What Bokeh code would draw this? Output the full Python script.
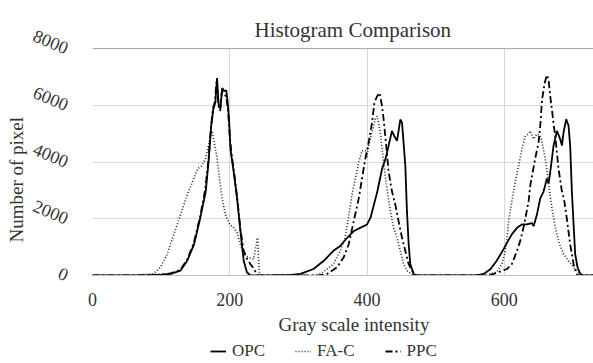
from bokeh.plotting import figure
from bokeh.models import Legend, LegendItem, Title, Span, FixedTicker, Range1d
from bokeh.layouts import column
from bokeh.embed import file_html
from bokeh.resources import INLINE

# ---- data ----
opc_x = [0, 40, 80, 100, 114, 128, 138, 148, 157, 165, 169, 173, 176, 179, 181.5, 184, 186.5, 189, 192, 195, 197, 199, 201, 206, 210.6, 215.5, 220.3, 225, 230,
         260, 290, 303, 322, 337, 351, 361, 371, 381, 390, 400, 405, 410, 415, 419, 422, 427, 431.5, 436.4, 440, 443.7, 448.5, 451, 455.8, 458.2, 460.7, 463, 468, 472,
         560, 570, 580, 589, 599, 604, 611, 618.5, 625.7, 633, 640, 642.7, 647.5, 652.4, 657.2, 659.7, 662, 664.5, 667, 671.8, 676.7, 681.5, 684, 686.4, 690.3, 693.6, 696, 698.5, 701, 703.3, 706.7, 710.7, 715, 730]
opc_y = [0, 0, 10, 30, 60, 170, 520, 1100, 2030, 2960, 4000, 5280, 5860, 6090, 6960, 5970, 5920, 6610, 6500, 6530, 6090, 5500, 4460, 3600, 2720, 1570, 520, 115, 0,
         0, 20, 56, 230, 520, 870, 1040, 1330, 1570, 1680, 1800, 2030, 2490, 2960, 3420, 3770, 4120, 4580, 5100, 4900, 4750, 5500, 5390, 3880, 2260, 1100, 400, 56, 0,
         0, 56, 230, 520, 930, 1160, 1450, 1680, 1800, 1800, 1850, 1740, 2140, 2720, 2960, 3190, 3420, 3250, 3650, 4580, 5100, 4810, 4580, 5050, 5510, 5280, 4580, 2960, 1800, 750, 290, 56, 0, 0]

fac_x = [0, 60, 89, 99, 108.8, 118.5, 128.2, 137.9, 147.6, 153.4, 159.7, 164.6, 168, 171.8, 174.3, 178.2, 181.6, 185.5, 188.9, 193.7, 200, 205.8, 210.6, 215.5, 220.3, 227.6, 234.9, 239.8, 240.7, 242.7, 244.6,
         320, 332, 351, 361, 368, 373, 378, 383, 388, 392.7, 397.6, 400, 402.4, 407.3, 412, 414.6, 419.4, 424, 429, 434, 438.8, 443.7, 448.5, 453.3, 458, 468,
         575, 580, 589, 596.6, 601.5, 604, 606.3, 611, 616, 621, 625.7, 630.5, 635.4, 637.8, 642.7, 647.5, 652.4, 655, 659.7, 663, 666, 669.4, 674.3, 680.6, 686.4, 693.6, 700.9, 708, 713, 730]
fac_y = [0, 0, 60, 290, 750, 1450, 2140, 2840, 3420, 3770, 3880, 4120, 4460, 4930, 5100, 4580, 4120, 3310, 2720, 2140, 1800, 1680, 1510, 1100, 750, 640, 580, 1270, 1330, 170, 0,
         0, 56, 400, 870, 1330, 2030, 2840, 3420, 4000, 4400, 4400, 4180, 4580, 5050, 5510, 5620, 5050, 4000, 3070, 2260, 1680, 1330, 870, 400, 170, 0,
         0, 56, 115, 400, 870, 1330, 1910, 2610, 3310, 3880, 4460, 4900, 5000, 5100, 4810, 4990, 4930, 4700, 4120, 3540, 2960, 2380, 1680, 1100, 750, 520, 290, 115, 0, 0]

ppc_x = [0, 40, 80, 100, 113, 128, 138, 147.6, 157, 164, 169, 172.5, 175.5, 178, 181, 183.5, 186, 188.5, 192, 195, 197.5, 200, 203, 206, 210.6, 215.5, 220, 225, 230, 235, 239, 241,
         330, 341.8, 356.3, 366, 373.3, 380.6, 388, 392.7, 397.6, 402.4, 407.3, 410.7, 414.6, 418.4, 421.9, 424.2, 428, 431.5, 436.4, 441.3, 446, 451, 455.8, 460.7, 465.6, 470,
         575, 584.5, 604, 611, 618.5, 623.3, 629, 635.4, 638, 645, 650, 652.4, 655, 659, 662, 664.5, 667, 669.4, 672, 674.3, 679, 684, 687, 691, 696, 701, 705, 709, 730]
ppc_y = [0, 0, 10, 30, 70, 200, 560, 1150, 2100, 3000, 4050, 5200, 5900, 6100, 6900, 6000, 5800, 6500, 6400, 6300, 5800, 4900, 4200, 3700, 2800, 1650, 900, 600, 400, 250, 60, 0,
         0, 56, 290, 640, 1100, 1910, 2720, 3420, 4120, 4700, 5390, 6090, 6320, 6440, 5970, 5510, 4580, 3650, 2960, 2490, 1910, 1330, 870, 400, 170, 0,
         0, 56, 230, 400, 870, 1220, 1800, 2610, 3190, 4120, 4700, 5280, 6200, 6800, 7070, 6900, 6320, 5860, 5300, 4930, 3770, 2960, 2700, 2030, 1100, 400, 56, 0, 0]

series_names = ["OPC", "FA-C", "PPC"]
series_x = [opc_x, fac_x, ppc_x]
series_y = [opc_y, fac_y, ppc_y]
x_ticks = [0, 200, 400, 600]
y_ticks = [0, 2000, 4000, 6000, 8000]

FONT = "Liberation Serif"
TXT = "#333333"
GRID = "#d9d9d9"

STYLES = [dict(line_color="#000000", line_width=1.8),
          dict(line_color="#222222", line_width=1.6, line_dash="1 2"),
          dict(line_color="#000000", line_width=1.8, line_dash="7 3 2 3")]

p = figure(width=593, height=337, output_backend="svg", toolbar_location=None,
           x_range=Range1d(0, 730), y_range=Range1d(0, 8040),
           min_border_left=92, min_border_right=0, min_border_top=47, min_border_bottom=59)
p.outline_line_color = None
p.background_fill_color = "white"

p.title.text = "Histogram Comparison"
p.title.text_font = FONT
p.title.text_font_size = "21px"
p.title.text_font_style = "normal"
p.title.text_color = TXT
p.title.align = "left"
p.title.offset = 162
p.title.standoff = 12

# axes
p.xaxis.ticker = FixedTicker(ticks=x_ticks)
p.yaxis.ticker = FixedTicker(ticks=y_ticks)
for ax in (p.xaxis[0], p.yaxis[0]):
    ax.major_tick_line_color = None
    ax.minor_tick_line_color = None
    ax.major_label_text_font = FONT
    ax.major_label_text_font_size = "18px"
    ax.major_label_text_color = TXT
p.xaxis.axis_line_color = "#bfbfbf"
p.yaxis.axis_line_color = None
p.xaxis.major_label_standoff = 11
p.yaxis.major_label_standoff = 19
p.yaxis.major_label_orientation = -0.4

ylab = Title(text="Number of pixel", align="left", offset=33, standoff=0,
             text_font=FONT, text_font_size="19px", text_font_style="normal", text_color=TXT)
p.add_layout(ylab, "left")
xlab = Title(text="Gray scale intensity", align="left", offset=186, standoff=6,
             text_font=FONT, text_font_size="19px", text_font_style="normal", text_color=TXT)
p.add_layout(xlab, "below")

p.xgrid.ticker = FixedTicker(ticks=x_ticks[1:])
p.xgrid.grid_line_color = GRID
p.ygrid.grid_line_color = GRID
p.add_layout(Span(location=y_ticks[-1], dimension="width", line_color="#a6a6a6", line_width=1))

for sx, sy, st in zip(series_x, series_y, STYLES):
    p.line(sx, sy, **st)

# legend strip below the chart (its lines lie outside this strip's view)
lg = figure(width=593, height=26, output_backend="svg", toolbar_location=None,
            x_range=Range1d(0, 730), y_range=Range1d(-2, -1),
            min_border_left=0, min_border_right=0, min_border_top=0, min_border_bottom=0)
lg.axis.visible = False
lg.grid.visible = False
lg.outline_line_color = None
keys = [lg.line(sx, sy, **st) for sx, sy, st in zip(series_x, series_y, STYLES)]
legend = Legend(items=[LegendItem(label=n, renderers=[k]) for n, k in zip(series_names, keys)],
                orientation="horizontal", location=(118, 2),
                label_text_font=FONT, label_text_font_size="17px", label_text_color=TXT,
                glyph_width=16, glyph_height=16, label_height=16, label_standoff=6,
                spacing=30, padding=2, margin=0, border_line_color=None,
                background_fill_alpha=0)
lg.add_layout(legend, "center")

layout = column(p, lg, spacing=0)
open("out.html", "w").write(file_html(layout, INLINE))
